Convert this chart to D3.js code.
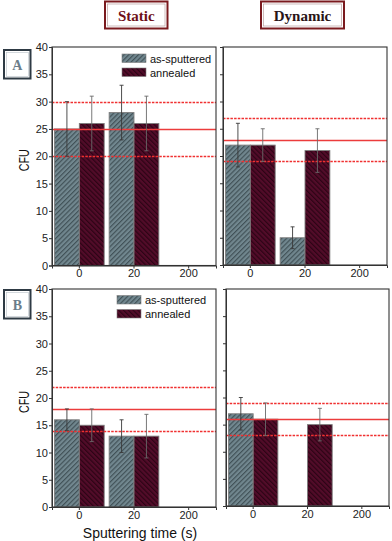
<!DOCTYPE html>
<html><head><meta charset="utf-8">
<script src="https://cdn.jsdelivr.net/npm/d3@7"></script>
<style>html,body{margin:0;padding:0;background:#fff}svg{display:block}</style>
</head><body>
<svg id="chart" width="392" height="541"></svg>
<script>
const categories = ["0", "20", "200"];
const series = ["as-sputtered", "annealed"];
const yTicks = [0, 5, 10, 15, 20, 25, 30, 35, 40];

const staticA_sputtered = [25, 28, 0];
const staticA_sputteredErr = [5, 5, 0];
const staticA_annealed = [26, 26, 0];
const staticA_annealedErr = [5, 5, 0];
const dynamicA_sputtered = [22, 5, 0];
const dynamicA_sputteredErr = [4, 2, 0];
const dynamicA_annealed = [22, 21, 0];
const dynamicA_annealedErr = [3, 4, 0];

const staticB_sputtered = [16, 13, 0];
const staticB_sputteredErr = [2, 3, 0];
const staticB_annealed = [15, 13, 0];
const staticB_annealedErr = [3, 4, 0];
const dynamicB_sputtered = [17, 0, 0];
const dynamicB_sputteredErr = [3, 0, 0];
const dynamicB_annealed = [16, 15, 0];
const dynamicB_annealedErr = [3, 3, 0];

// reference lines: [lower dashed, mean solid, upper dashed]
const refStaticA = [20, 25, 30];
const refDynamicA = [19, 23, 27];
const refStaticB = [14, 18, 22];
const refDynamicB = [13, 16, 19];

const svg = d3.select("#chart");
const FONT = "'Liberation Sans', Arial, sans-serif";
const defs = svg.append("defs");

function hatch(id, base, line, angle) {
  const p = defs.append("pattern").attr("id", id)
    .attr("patternUnits", "userSpaceOnUse").attr("width", 3.4).attr("height", 3.4)
    .attr("patternTransform", `rotate(${angle})`);
  p.append("rect").attr("width", 3.4).attr("height", 3.4).attr("fill", base);
  p.append("line").attr("x1", 0.6).attr("y1", 0).attr("x2", 0.6).attr("y2", 3.4)
    .attr("stroke", line).attr("stroke-width", 1.1);
}
hatch("hGray", "#71878f", "#3e4d53", 45);
hatch("hRed", "#520c29", "#290313", -45);
const fills = { "as-sputtered": "url(#hGray)", "annealed": "url(#hRed)" };

const panels = [
  { x0: 52, x1: 216, y0: 47, y1: 265.5, labels: true, s: staticA_sputtered, se: staticA_sputteredErr, a: staticA_annealed, ae: staticA_annealedErr, ref: refStaticA, legend: { x: 122, y: 54 } },
  { x0: 223, x1: 387, y0: 47, y1: 265, labels: false, s: dynamicA_sputtered, se: dynamicA_sputteredErr, a: dynamicA_annealed, ae: dynamicA_annealedErr, ref: refDynamicA },
  { x0: 52, x1: 216, y0: 289, y1: 507, labels: true, s: staticB_sputtered, se: staticB_sputteredErr, a: staticB_annealed, ae: staticB_annealedErr, ref: refStaticB, legend: { x: 117, y: 295.5 } },
  { x0: 226, x1: 389, y0: 289, y1: 506, labels: false, s: dynamicB_sputtered, se: dynamicB_sputteredErr, a: dynamicB_annealed, ae: dynamicB_annealedErr, ref: refDynamicB }
];

panels.forEach(P => {
  const g = svg.append("g");
  const x = d3.scaleBand().domain(categories).range([P.x0, P.x1]).paddingInner(0).paddingOuter(0);
  const x1 = d3.scaleBand().domain(series).range([0, x.bandwidth()]).paddingOuter(0.1).paddingInner(0);
  const y = d3.scaleLinear().domain([0, 40]).range([P.y1, P.y0]);

  const data = [];
  categories.forEach((c, i) => {
    data.push({ c, k: "as-sputtered", v: P.s[i], e: P.se[i] });
    data.push({ c, k: "annealed", v: P.a[i], e: P.ae[i] });
  });
  const bars = data.filter(d => d.v > 0);

  // bars
  g.selectAll("rect.bar").data(bars).join("rect").attr("class", "bar")
    .attr("x", d => x(d.c) + x1(d.k)).attr("width", x1.bandwidth())
    .attr("y", d => y(d.v)).attr("height", d => y(0) - y(d.v))
    .attr("fill", d => fills[d.k]).attr("stroke", "#7e7e7e").attr("stroke-width", 0.9);

  // reference lines
  P.ref.forEach((v, i) => {
    const yy = Math.round(y(v)) + 0.5;
    g.append("line").attr("x1", P.x0).attr("x2", P.x1).attr("y1", yy).attr("y2", yy)
      .attr("stroke", i === 1 ? "#ec3c3c" : "#f03030")
      .attr("stroke-width", i === 1 ? 1.4 : 1.4)
      .attr("stroke-dasharray", i === 1 ? null : "2.5,1.2");
  });

  // error bars
  const eg = g.selectAll("g.err").data(bars).join("g").attr("class", "err")
    .attr("stroke", d => d.k === "annealed" ? "#6a6a6a" : "#3a3a3a").attr("stroke-width", 0.9);
  const cx = d => x(d.c) + x1(d.k) + x1.bandwidth() / 2;
  eg.append("line").attr("x1", cx).attr("x2", cx).attr("y1", d => y(d.v + d.e)).attr("y2", d => y(d.v - d.e));
  eg.append("line").attr("x1", d => cx(d) - 2).attr("x2", d => cx(d) + 2).attr("y1", d => y(d.v + d.e)).attr("y2", d => y(d.v + d.e));
  eg.append("line").attr("x1", d => cx(d) - 2).attr("x2", d => cx(d) + 2).attr("y1", d => y(d.v - d.e)).attr("y2", d => y(d.v - d.e));

  // frame
  g.append("rect").attr("x", P.x0).attr("y", P.y0).attr("width", P.x1 - P.x0).attr("height", P.y1 - P.y0)
    .attr("fill", "none").attr("stroke", "#333").attr("stroke-width", 1.1);

  // y axis
  const ya = d3.axisLeft(y).tickValues(yTicks).tickSize(3).tickPadding(1)
    .tickFormat(P.labels ? d3.format("d") : () => "");
  const yg = g.append("g").attr("transform", `translate(${P.x0},0)`).call(ya);
  yg.select(".domain").attr("stroke", "#333");
  yg.selectAll(".tick line").attr("stroke", "#333");
  yg.selectAll("text").attr("font-family", FONT).attr("font-size", 11).attr("fill", "#222");

  // x axis
  const xa = d3.axisBottom(x).tickSize(3).tickPadding(1);
  const xg = g.append("g").attr("transform", `translate(0,${P.y1})`).call(xa);
  xg.select(".domain").attr("stroke", "#333");
  xg.selectAll(".tick line").attr("stroke", "#333");
  xg.selectAll("text").attr("font-family", FONT).attr("font-size", 11).attr("fill", "#222");

  // CFU label
  if (P.labels) {
    g.append("text").attr("transform", `translate(${29},${(P.y0 + P.y1) / 2 + 4}) rotate(-90)`)
      .attr("text-anchor", "middle").attr("font-family", FONT).attr("font-size", 14)
      .attr("textLength", 22).attr("lengthAdjust", "spacingAndGlyphs")
      .attr("fill", "#111").text("CFU");
  }

  // legend
  if (P.legend) {
    series.forEach((s, i) => {
      const ly = P.legend.y + i * 14;
      g.append("rect").attr("x", P.legend.x).attr("y", ly).attr("width", 24).attr("height", 8.5)
        .attr("fill", fills[s]).attr("stroke", "#7e7e7e").attr("stroke-width", 0.6);
      g.append("text").attr("x", P.legend.x + 28).attr("y", ly + 8.5)
        .attr("font-family", FONT).attr("font-size", 11).attr("fill", "#111").text(s);
    });
  }
});

// header boxes
function header(x0, x1, label, color) {
  svg.append("rect").attr("x", x0).attr("y", 1.5).attr("width", x1 - x0).attr("height", 27)
    .attr("fill", "#fff").attr("stroke", "#7a1a1e").attr("stroke-width", 2);
  svg.append("rect").attr("x", x0 + 2.5).attr("y", 4).attr("width", x1 - x0 - 5).attr("height", 22)
    .attr("fill", "none").attr("stroke", "#b9a0a0").attr("stroke-width", 0.7);
  svg.append("text").attr("x", (x0 + x1) / 2).attr("y", 20.5).attr("text-anchor", "middle")
    .attr("font-family", "'Liberation Serif', 'Times New Roman', serif").attr("font-weight", "bold")
    .attr("font-size", 15).attr("fill", color).text(label);
}
header(105, 167.5, "Static", "#6e1018");
header(261, 344, "Dynamic", "#2a1416");

// panel letters
function letter(y0, label) {
  svg.append("rect").attr("x", 4).attr("y", y0).attr("width", 26.5).attr("height", 28.5)
    .attr("fill", "#fff").attr("stroke", "#2e3a44").attr("stroke-width", 2);
  svg.append("rect").attr("x", 6.3).attr("y", y0 + 2.3).attr("width", 22).attr("height", 24)
    .attr("fill", "none").attr("stroke", "#b8c0c6").attr("stroke-width", 0.6);
  svg.append("text").attr("x", 17.3).attr("y", y0 + 19.5).attr("text-anchor", "middle")
    .attr("font-family", "'Liberation Serif', 'Times New Roman', serif").attr("font-weight", "bold")
    .attr("font-size", 14).attr("fill", "#6b7d8a").text(label);
}
letter(50, "A");
letter(290, "B");

// x axis title
svg.append("text").attr("x", 140).attr("y", 538).attr("text-anchor", "middle")
  .attr("font-family", FONT).attr("font-size", 14).attr("fill", "#111").text("Sputtering time (s)");
</script>
</body></html>
